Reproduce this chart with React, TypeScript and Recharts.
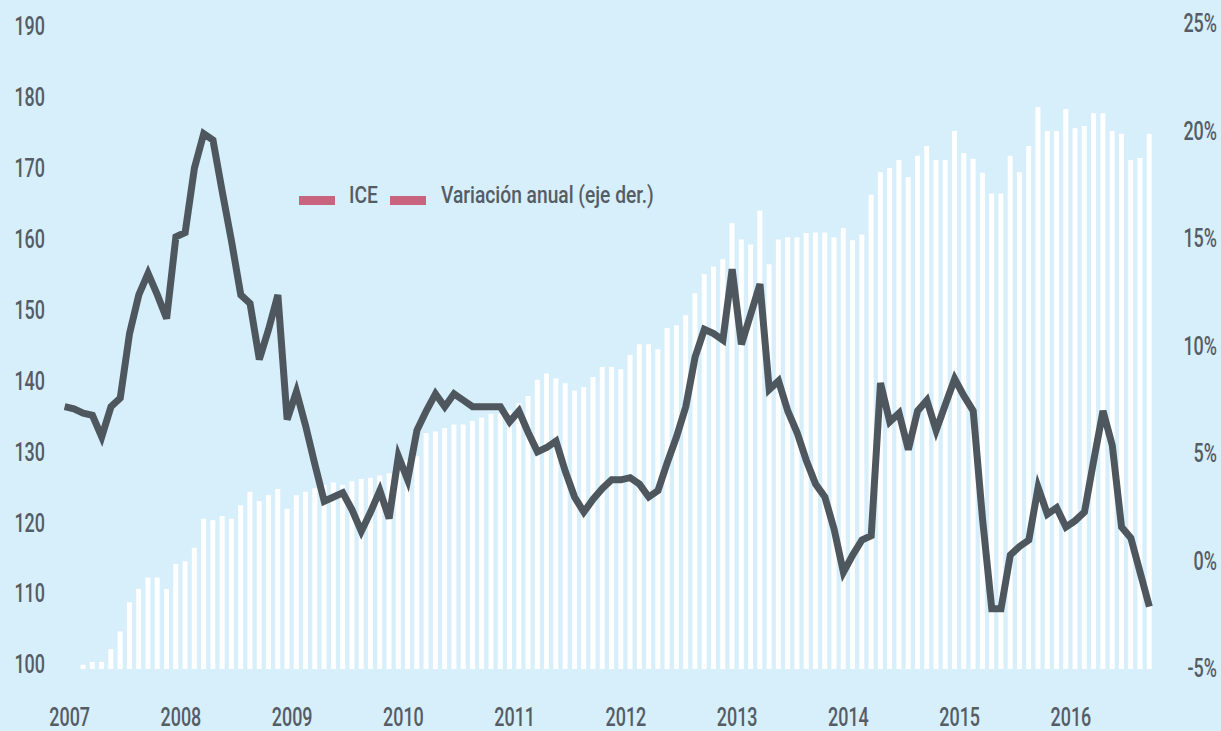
import React from "react";
import { ComposedChart, Bar, Line, XAxis, YAxis } from "recharts";

// meses ene-2007 .. oct-2016
const anios = [2007, 2008, 2009, 2010, 2011, 2012, 2013, 2014, 2015, 2016];
const meses: string[] = [];
anios.forEach((a) => {
  for (let m = 1; m <= 12; m++) {
    if (a === 2016 && m > 10) break;
    meses.push(`${a}-${String(m).padStart(2, "0")}`);
  }
});
const ticksAnio = anios.map((a) => `${a}-01`);

// ICE (eje izq.)
const ice = [
  100.0, 100.0, 100.6, 101.0, 101.0, 102.8, 105.3, 109.4, 111.3, 112.9, 112.9, 111.3,
  114.8, 115.2, 117.1, 121.2, 121.0, 121.6, 121.2, 123.1, 125.0, 123.7, 124.5, 125.4,
  122.6, 124.5, 125.0, 125.5, 126.0, 126.3, 126.0, 126.5, 126.8, 127.0, 127.3, 127.6,
  128.0, 129.5, 130.0, 133.3, 133.5, 134.0, 134.5, 134.5, 135.0, 135.5, 136.0, 136.0,
  136.5, 137.5, 138.5, 140.8, 141.7, 141.0, 140.3, 139.3, 139.8, 141.2, 142.6, 142.6,
  142.3, 144.3, 145.8, 145.8, 145.1, 148.1, 148.5, 149.9, 153.0, 155.7, 156.8, 157.8,
  162.9, 160.6, 159.9, 164.7, 157.1, 160.6, 160.9, 160.9, 161.5, 161.6, 161.6, 160.9,
  162.2, 160.5, 161.3, 166.9, 170.1, 170.7, 171.8, 169.4, 172.4, 173.8, 171.8, 171.8,
  175.9, 172.8, 172.0, 170.0, 167.1, 167.1, 172.4, 170.1, 173.8, 179.3, 175.9, 175.9,
  179.0, 176.3, 176.6, 178.4, 178.4, 175.9, 175.5, 171.8, 172.1, 175.5,
];

// variación anual, % (eje der.)
const variacion = [
  7.2, 7.1, 6.9, 6.8, 5.8, 7.2, 7.6, 10.6, 12.4, 13.4, 12.4, 11.3,
  15.1, 15.3, 18.3, 19.9, 19.6, 17.2, 14.9, 12.4, 12.0, 9.4, 10.8, 12.4,
  6.6, 7.9, 6.3, 4.5, 2.8, 3.0, 3.2, 2.4, 1.4, 2.3, 3.3, 2.0,
  4.9, 3.8, 6.1, 7.0, 7.8, 7.2, 7.8, 7.5, 7.2, 7.2, 7.2, 7.2,
  6.5, 7.0, 6.0, 5.1, 5.3, 5.6, 4.2, 3.0, 2.3, 2.9, 3.4, 3.8,
  3.8, 3.9, 3.6, 3.0, 3.3, 4.6, 5.8, 7.2, 9.5, 10.8, 10.6, 10.3,
  13.6, 10.1, 11.5, 12.9, 8.0, 8.4, 7.0, 6.0, 4.7, 3.6, 3.0, 1.5,
  -0.5, 0.3, 1.0, 1.2, 8.3, 6.5, 6.9, 5.2, 7.0, 7.5, 6.1, 7.3,
  8.5, 7.7, 7.0, 2.0, -2.2, -2.2, 0.3, 0.7, 1.0, 3.45, 2.2, 2.5,
  1.6, 1.9, 2.3, 4.7, 7.0, 5.4, 1.6, 1.1, -0.5, -2.1,
];

const ticksIzq = [100, 110, 120, 130, 140, 150, 160, 170, 180, 190];
const ticksDer = [-5, 0, 5, 10, 15, 20, 25];

const data = meses.map((mes, i) => ({ mes, ice: ice[i], variacion: variacion[i] }));

const BG = "#d7eefb";
const TEXT = "#545c65";
const LINEA = "#4f575e";
const ROSA = "#c9647f";
const FONT = "Roboto, sans-serif";
const SX = 0.69; // tipografía estrecha

const TickIzq = (p: any) => (
  <text transform={`translate(${p.x},${p.y - 5}) scale(${SX},1)`} textAnchor="end" dominantBaseline="central" fill={TEXT} fontSize={26} fontWeight={500} fontFamily={FONT}>
    {p.payload.value}
  </text>
);

const TickDer = (p: any) => (
  <text transform={`translate(${p.x},${p.y - 1}) scale(${SX},1)`} textAnchor="end" dominantBaseline="central" fill={TEXT} fontSize={26} fontWeight={500} fontFamily={FONT}>
    {p.payload.value}%
  </text>
);

const TickAnio = (p: any) => (
  <text transform={`translate(${p.x + 5},${p.y}) scale(${SX},1)`} textAnchor="middle" dominantBaseline="central" fill={TEXT} fontSize={26} fontWeight={500} fontFamily={FONT}>
    {String(p.payload.value).slice(0, 4)}
  </text>
);

const Leyenda = () => (
  <div
    style={{
      position: "absolute",
      left: 299,
      top: 181,
      display: "flex",
      alignItems: "center",
      fontFamily: FONT,
      fontSize: 24,
      fontWeight: 500,
      color: TEXT,
      whiteSpace: "nowrap",
    }}
  >
    <span style={{ width: 36, height: 9, background: ROSA, marginTop: 10 }} />
    <span style={{ marginLeft: 14, width: 27, display: "inline-block", transform: "scaleX(0.8)", transformOrigin: "left center" }}>ICE</span>
    <span style={{ width: 36, height: 9, background: ROSA, marginTop: 10, marginLeft: 14 }} />
    <span style={{ marginLeft: 15, display: "inline-block", transform: "scaleX(0.8)", transformOrigin: "left center" }}>
      Variación anual (eje der.)
    </span>
  </div>
);

export default function App() {
  return (
    <div style={{ position: "fixed", left: 0, top: 0, width: 1221, height: 731, background: BG }}>
      <ComposedChart width={1221} height={731} data={data} margin={{ top: 24, right: 0, bottom: 0, left: 0 }}>
        <XAxis
          xAxisId="meses"
          dataKey="mes"
          ticks={ticksAnio}
          interval={0}
          height={62}
          axisLine={false}
          tickLine={false}
          tickSize={0}
          tickMargin={48}
          tick={TickAnio}
        />
        <YAxis
          yAxisId="izq"
          orientation="left"
          width={60}
          domain={[100, 191]}
          ticks={ticksIzq}
          allowDataOverflow
          axisLine={false}
          tickLine={false}
          tickSize={0}
          tickMargin={15}
          tick={TickIzq}
        />
        <YAxis
          yAxisId="der"
          orientation="right"
          width={67}
          domain={[-5, 25]}
          ticks={ticksDer}
          axisLine={false}
          tickLine={false}
          tickSize={0}
          tickMargin={63}
          tick={TickDer}
        />
        <Bar xAxisId="meses" yAxisId="izq" dataKey="ice" name="ICE" fill="#ffffff" barSize={5} isAnimationActive={false} />
        <Line
          xAxisId="meses"
          yAxisId="der"
          dataKey="variacion"
          name="Variación anual (eje der.)"
          type="linear"
          stroke={LINEA}
          strokeWidth={7}
          strokeLinejoin="miter"
          dot={false}
          activeDot={false}
          isAnimationActive={false}
        />
      </ComposedChart>
      <Leyenda />
    </div>
  );
}
